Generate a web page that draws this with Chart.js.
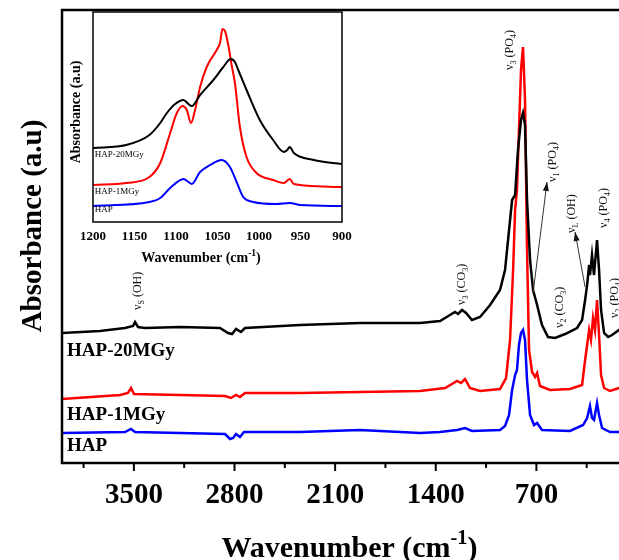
<!DOCTYPE html>
<html>
<head>
<meta charset="utf-8">
<script src="https://cdn.jsdelivr.net/npm/chart.js@4.4.1/dist/chart.umd.min.js"></script>
<style>
html, body { margin: 0; padding: 0; overflow: hidden; background: #fff; width: 619px; height: 560px; }
#wrap { position: relative; width: 700px; height: 560px; }
#main, #inset { position: absolute; left: 0; top: 0; }
</style>
</head>
<body>
<div id="wrap">
  <canvas id="main" width="700" height="560"></canvas>
  <canvas id="inset" width="360" height="280"></canvas>
</div>
<script>
// Main spectrum (wavenumber in cm-1, absorbance in arbitrary offset units)
const hap20Wave = [4000, 3736, 3562, 3506, 3492, 3471, 3423, 3179, 2901, 2845, 2817, 2789, 2755, 2727, 2344, 1927, 1509, 1370, 1301, 1266, 1245, 1217, 1189, 1148, 1092, 1022, 953, 918, 890, 869, 848, 828, 807, 793, 779, 765, 744, 723, 695, 661, 619, 570, 500, 417, 382, 361, 347, 333, 327, 313, 299, 278, 264, 250, 229, 201, 174, 125, 0];
const hap20Abs  = [130, 132, 135, 137, 141, 136, 135, 136, 135, 130, 129, 134, 131, 135, 138, 140, 140, 142, 148, 151, 149, 153, 150, 143, 146, 158, 173, 193, 233, 263, 268, 313, 343, 350, 338, 263, 203, 173, 158, 138, 126, 125, 129, 135, 143, 163, 178, 198, 188, 208, 188, 223, 193, 153, 130, 126, 128, 133, 138];

const hap1Wave = [4000, 3596, 3541, 3520, 3499, 3179, 2866, 2824, 2789, 2762, 2727, 2344, 1927, 1509, 1335, 1287, 1252, 1224, 1196, 1162, 1092, 953, 911, 883, 862, 848, 835, 821, 807, 793, 779, 765, 751, 730, 709, 695, 675, 605, 466, 382, 361, 347, 333, 320, 306, 292, 278, 264, 250, 229, 188, 125, 0];
const hap1Abs  = [64, 68, 70, 75, 69, 68, 67, 65, 68, 66, 70, 70, 71, 72, 75, 79, 82, 80, 84, 75, 72, 74, 85, 123, 193, 253, 273, 333, 393, 416, 363, 213, 113, 91, 86, 90, 77, 73, 74, 78, 103, 118, 133, 123, 145, 133, 163, 128, 88, 75, 72, 75, 77];

const hapWave = [4000, 3562, 3520, 3492, 3179, 2866, 2831, 2810, 2789, 2762, 2734, 2344, 1927, 1648, 1509, 1370, 1252, 1196, 1148, 953, 918, 890, 869, 848, 835, 821, 807, 793, 779, 765, 744, 716, 695, 661, 466, 375, 347, 327, 313, 299, 278, 264, 243, 188, 125, 0];
const hapAbs  = [30, 31, 34, 31, 30, 29, 24, 25, 29, 26, 31, 31, 33, 31, 30, 31, 33, 35, 32, 33, 37, 48, 73, 88, 93, 118, 130, 133, 123, 83, 48, 38, 40, 33, 32, 38, 45, 57, 45, 43, 60, 48, 35, 31, 31, 32];

// Inset (1200-900 cm-1)
const in20Wave = [1200, 1160, 1132, 1119, 1111, 1101, 1091, 1085, 1081, 1071, 1055, 1043, 1034, 1029, 1025, 1015, 999, 983, 970, 966, 963, 958, 934, 900];
const in20Abs  = [74, 77, 87, 99, 109, 118, 122, 118, 116, 127, 142, 155, 163, 160, 152, 132, 102, 82, 70, 72, 75, 69, 62, 58];
const in1Wave = [1200, 1160, 1132, 1119, 1107, 1099, 1092, 1087, 1082, 1077, 1071, 1063, 1051, 1047, 1044, 1041, 1037, 1033, 1029, 1023, 1015, 1003, 983, 970, 963, 958, 900];
const in1Abs  = [37, 39, 45, 59, 89, 109, 116, 112, 99, 112, 135, 155, 172, 179, 193, 191, 177, 157, 139, 95, 65, 49, 42, 39, 43, 38, 35];
const inHapWave = [1200, 1132, 1119, 1107, 1091, 1085, 1081, 1071, 1059, 1045, 1035, 1027, 1019, 1007, 979, 963, 950, 900];
const inHapAbs  = [16, 20, 24, 34, 43, 40, 38, 50, 57, 62, 55, 40, 25, 20, 18, 19, 17, 16];

const seriesNames = ['HAP-20MGy', 'HAP-1MGy', 'HAP'];
const seriesColors = ['#000000', '#ff0000', '#0000ff'];
const mainTickLabels = [3500, 2800, 2100, 1400, 700];
const mainTickMarks = [3850, 3500, 3150, 2800, 2450, 2100, 1750, 1400, 1050, 700, 350, 0];
const insetTicks = [1200, 1150, 1100, 1050, 1000, 950, 900];

// series label anchors [wave, abs]
const mainNameAt = [[3965, 112], [3965, 48], [3965, 17]];
const insetNameAt = [[1198, 67], [1198, 30], [1198, 12]];

// band assignments: text parts, anchor [wave, abs]
const bands = [
  { parts: [['ν'], ['S', 's'], [' (OH)']], at: [3471, 153] },
  { parts: [['ν'], ['3', 's'], [' (CO'], ['3', 's'], [')']], at: [1217, 158] },
  { parts: [['ν'], ['3', 's'], [' (PO'], ['4', 's'], [')']], at: [883, 393] },
  { parts: [['ν'], ['1', 's'], [' (PO'], ['4', 's'], [')']], at: [584, 281] },
  { parts: [['ν'], ['2', 's'], [' (CO'], ['3', 's'], [')']], at: [535, 135] },
  { parts: [['ν'], ['L', 's'], [' (OH)']], at: [452, 230] },
  { parts: [['ν'], ['4', 's'], [' (PO'], ['4', 's'], [')']], at: [229, 235] },
  { parts: [['ν'], ['2', 's'], [' (PO'], ['4', 's'], [')']], at: [153, 145] }
];
const arrows = [
  { from: [723, 170], to: [626, 281] },
  { from: [361, 176], to: [431, 231] }
];

const SERIF = '"Liberation Serif", "Times New Roman", serif';

function pts(w, a) { return w.map((x, i) => ({ x: x, y: a[i] })); }

// draws text made of normal / sub / sup parts, optionally rotated
function richText(ctx, x, y, parts, size, weight, rotate, align) {
  ctx.save();
  ctx.translate(x, y);
  if (rotate) ctx.rotate(-Math.PI / 2);
  let total = 0;
  parts.forEach(p => {
    const s = p[1] ? size * 0.68 : size;
    ctx.font = weight + ' ' + s + 'px ' + SERIF;
    total += ctx.measureText(p[0]).width;
  });
  let cx = align === 'center' ? -total / 2 : 0;
  ctx.textAlign = 'left';
  parts.forEach(p => {
    const s = p[1] ? size * 0.68 : size;
    ctx.font = weight + ' ' + s + 'px ' + SERIF;
    let dy = 0;
    if (p[1] === 's') dy = size * 0.3;
    if (p[1] === 'u') dy = -size * 0.42;
    ctx.fillText(p[0], cx, dy);
    cx += ctx.measureText(p[0]).width;
  });
  ctx.restore();
}

const mainDecor = {
  id: 'mainDecor',
  afterDraw(chart) {
    const ctx = chart.ctx, a = chart.chartArea;
    const xs = chart.scales.x, ys = chart.scales.y;
    ctx.save();
    ctx.strokeStyle = '#000';
    ctx.lineWidth = 2.5;
    ctx.strokeRect(a.left, a.top, a.right - a.left, a.bottom - a.top);
    // tick marks
    ctx.lineWidth = 2;
    mainTickMarks.forEach(v => {
      const px = xs.getPixelForValue(v);
      const len = mainTickLabels.includes(v) || v === 0 ? 8 : 5;
      ctx.beginPath(); ctx.moveTo(px, a.bottom); ctx.lineTo(px, a.bottom + len); ctx.stroke();
    });
    ctx.fillStyle = '#000';
    // axis titles
    ctx.textBaseline = 'alphabetic';
    richText(ctx, (a.left + a.right) / 2, 557, [['Wavenumber (cm'], ['-1', 'u'], [')']], 30, 'bold', false, 'center');
    richText(ctx, 41, 226, [['Absorbance (a.u)']], 29, 'bold', true, 'center');
    // series names
    ctx.textBaseline = 'middle';
    seriesNames.forEach((n, i) => {
      ctx.font = 'bold 19px ' + SERIF;
      ctx.textAlign = 'left';
      ctx.fillText(n, xs.getPixelForValue(mainNameAt[i][0]), ys.getPixelForValue(mainNameAt[i][1]));
    });
    // band labels
    ctx.fillStyle = '#111';
    bands.forEach(b => {
      richText(ctx, xs.getPixelForValue(b.at[0]), ys.getPixelForValue(b.at[1]), b.parts, 12, 'normal', true, 'left');
    });
    // arrows
    ctx.strokeStyle = '#333';
    ctx.lineWidth = 1;
    arrows.forEach(ar => {
      const x1 = xs.getPixelForValue(ar.from[0]), y1 = ys.getPixelForValue(ar.from[1]);
      const x2 = xs.getPixelForValue(ar.to[0]), y2 = ys.getPixelForValue(ar.to[1]);
      const ang = Math.atan2(y2 - y1, x2 - x1);
      ctx.beginPath(); ctx.moveTo(x1, y1); ctx.lineTo(x2, y2); ctx.stroke();
      ctx.beginPath();
      ctx.moveTo(x2, y2);
      ctx.lineTo(x2 - 9 * Math.cos(ang) + 3 * Math.sin(ang), y2 - 9 * Math.sin(ang) - 3 * Math.cos(ang));
      ctx.lineTo(x2 - 9 * Math.cos(ang) - 3 * Math.sin(ang), y2 - 9 * Math.sin(ang) + 3 * Math.cos(ang));
      ctx.closePath();
      ctx.fillStyle = '#111';
      ctx.fill();
    });
    ctx.restore();
  }
};

new Chart(document.getElementById('main'), {
  type: 'line',
  data: {
    datasets: [
      { label: seriesNames[0], data: pts(hap20Wave, hap20Abs), borderColor: seriesColors[0] },
      { label: seriesNames[1], data: pts(hap1Wave, hap1Abs), borderColor: seriesColors[1] },
      { label: seriesNames[2], data: pts(hapWave, hapAbs), borderColor: seriesColors[2] }
    ]
  },
  options: {
    responsive: false,
    animation: false,
    layout: { padding: { left: 62, right: 63, top: 10, bottom: 0 } },
    elements: { point: { radius: 0 }, line: { borderWidth: 2.5, tension: 0 } },
    plugins: { legend: { display: false }, tooltip: { enabled: false } },
    scales: {
      x: {
        type: 'linear', min: 0, max: 4000, reverse: true,
        grid: { display: false, drawTicks: false },
        border: { display: false },
        afterBuildTicks(s) { s.ticks = mainTickMarks.map(v => ({ value: v })); },
        afterFit(s) { s.height = 97; },
        ticks: {
          autoSkip: false, maxRotation: 0, padding: 15, color: '#000',
          font: { family: SERIF, size: 29, weight: 'bold' },
          callback: v => mainTickLabels.includes(v) ? String(v) : ''
        }
      },
      y: { display: false, min: 0, max: 453 }
    }
  },
  plugins: [mainDecor]
});

const insetDecor = {
  id: 'insetDecor',
  afterDraw(chart) {
    const ctx = chart.ctx, a = chart.chartArea;
    const xs = chart.scales.x, ys = chart.scales.y;
    ctx.save();
    ctx.strokeStyle = '#000';
    ctx.lineWidth = 1.5;
    ctx.strokeRect(a.left, a.top, a.right - a.left, a.bottom - a.top);
    ctx.fillStyle = '#000';
    ctx.textBaseline = 'alphabetic';
    richText(ctx, 201, 262, [['Wavenumber (cm'], ['-1', 'u'], [')']], 14, 'bold', false, 'center');
    richText(ctx, 80, 112, [['Absorbance (a.u)']], 14, 'bold', true, 'center');
    ctx.textBaseline = 'middle';
    seriesNames.forEach((n, i) => {
      ctx.font = '9px ' + SERIF;
      ctx.textAlign = 'left';
      ctx.fillText(n, xs.getPixelForValue(insetNameAt[i][0]), ys.getPixelForValue(insetNameAt[i][1]));
    });
    ctx.restore();
  }
};

new Chart(document.getElementById('inset'), {
  type: 'line',
  data: {
    datasets: [
      { label: seriesNames[0], data: pts(in20Wave, in20Abs), borderColor: seriesColors[0] },
      { label: seriesNames[1], data: pts(in1Wave, in1Abs), borderColor: seriesColors[1] },
      { label: seriesNames[2], data: pts(inHapWave, inHapAbs), borderColor: seriesColors[2] }
    ]
  },
  options: {
    responsive: false,
    animation: false,
    layout: { padding: { left: 93, right: 18, top: 12, bottom: 0 } },
    elements: { point: { radius: 0 }, line: { borderWidth: 2, cubicInterpolationMode: 'monotone' } },
    plugins: { legend: { display: false }, tooltip: { enabled: false } },
    scales: {
      x: {
        type: 'linear', min: 900, max: 1200, reverse: true,
        grid: { display: false, drawTicks: false },
        border: { display: false },
        afterBuildTicks(s) { s.ticks = insetTicks.map(v => ({ value: v })); },
        afterFit(s) { s.height = 58; },
        ticks: {
          autoSkip: false, maxRotation: 0, padding: 7, color: '#000',
          font: { family: SERIF, size: 13, weight: 'bold' },
          callback: v => String(v)
        }
      },
      y: { display: false, min: 0, max: 210 }
    }
  },
  plugins: [insetDecor]
});
</script>
</body>
</html>
